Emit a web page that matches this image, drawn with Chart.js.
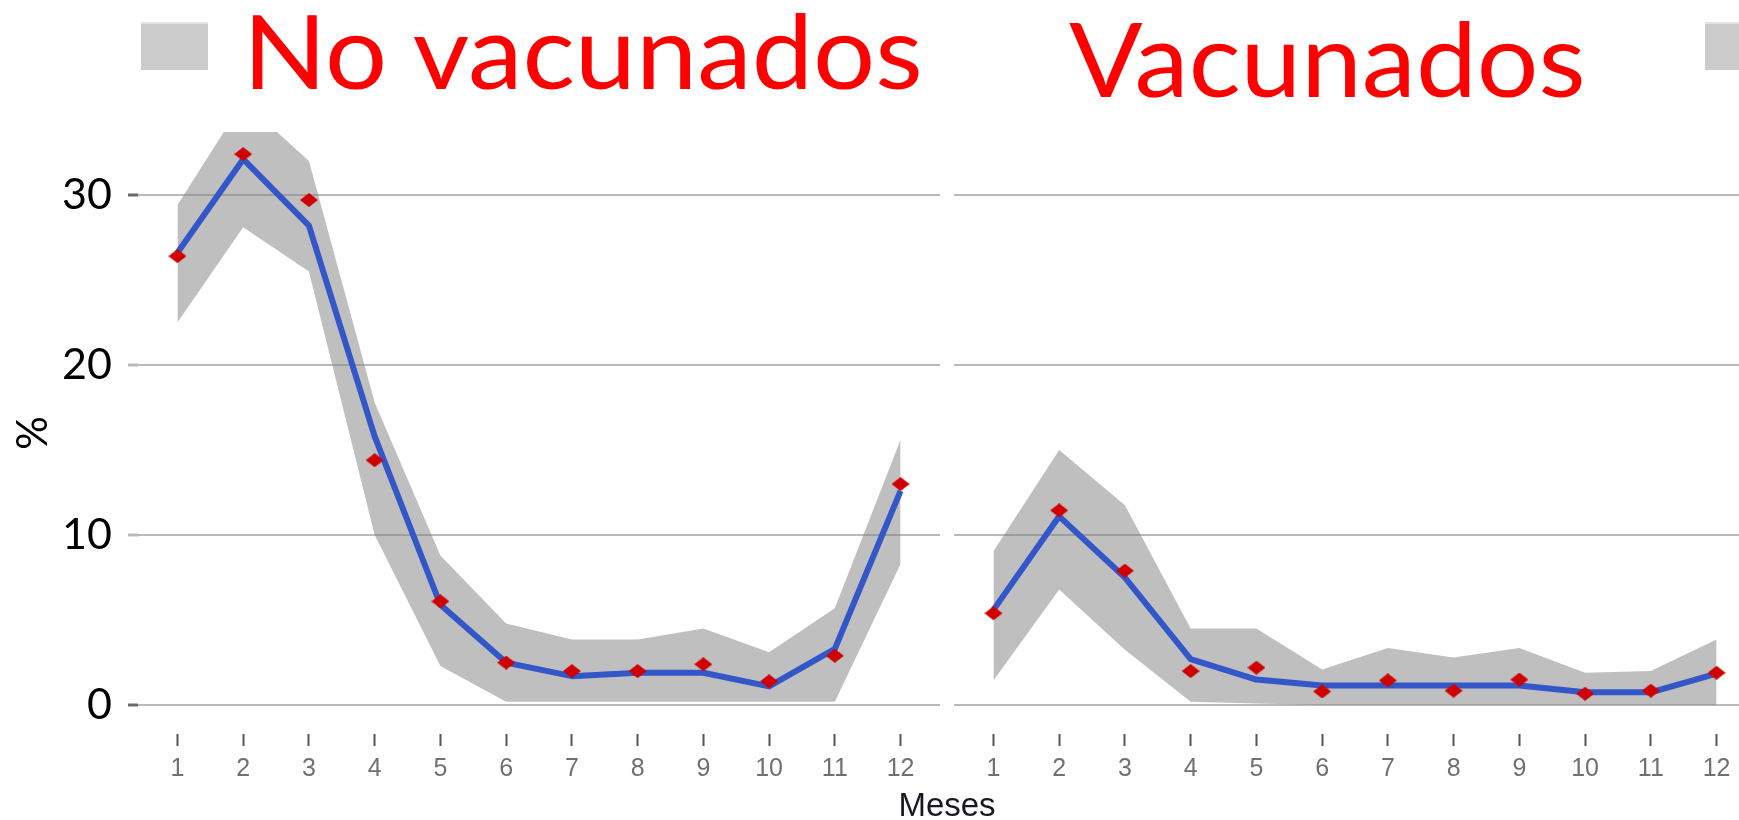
<!DOCTYPE html>
<html>
<head>
<meta charset="utf-8">
<script src="https://cdn.jsdelivr.net/npm/chart.js@4/dist/chart.umd.min.js"></script>
<style>
  html, body { margin: 0; padding: 0; background: #fff; }
  body { width: 1739px; height: 820px; overflow: hidden; position: relative; }
  .wrap { position: absolute; top: 0; }
  .ptitle { position: absolute; font-family: Lato, "Open Sans", sans-serif; color: #ff0000; font-size: 102px; line-height: 102px; white-space: nowrap; transform-origin: 0 0; }
  .key { position: absolute; background: #cbcbcb; border-top: 2px solid #e2e2e2; }
  #xtitle { position: absolute; font-family: "Liberation Sans", Arial, sans-serif; font-size: 33px; line-height: 33px; color: #1a1626; white-space: nowrap; }
</style>
</head>
<body>
<div class="key" style="left:141px; top:22px; width:67px; height:46px;"></div>
<div class="key" style="left:1705px; top:22px; width:40px; height:46px;"></div>
<div class="ptitle" id="t1" style="left:243px; top:-1px; transform:scaleX(1.075);"></div>
<div class="ptitle" id="t2" style="left:1069px; top:7px; transform:scaleX(1.066);"></div>
<div class="wrap" style="left:0px;"><canvas id="c1" width="950" height="820" style="width:950px;height:820px"></canvas></div>
<div class="wrap" style="left:944px;"><canvas id="c2" width="830" height="820" style="width:830px;height:820px"></canvas></div>
<div id="xtitle"></div>
<script>
// ---- data ----
const months = [1, 2, 3, 4, 5, 6, 7, 8, 9, 10, 11, 12];
const yTicks = [0, 10, 20, 30];
const panelTitles = ['No vacunados', 'Vacunados'];
const xTitle = 'Meses';
const yTitle = '%';

// No vacunados
const noVacObs   = [26.4, 32.4, 29.7, 14.4, 6.1, 2.5, 2.0, 2.0, 2.4, 1.4, 2.9, 13.0];
const noVacFit   = [26.6, 32.1, 28.2, 15.8, 5.9, 2.5, 1.7, 1.9, 1.9, 1.1, 3.3, 12.6];
const noVacUpper = [29.4, 35.5, 32.0, 17.8, 8.8, 4.8, 3.85, 3.85, 4.5, 3.1, 5.7, 15.6];
const noVacLower = [22.5, 28.1, 25.5, 10.0, 2.3, 0.2, 0.2, 0.2, 0.2, 0.2, 0.2, 8.3];

// Vacunados
const vacObs   = [5.4, 11.45, 7.9, 2.0, 2.2, 0.8, 1.45, 0.85, 1.5, 0.67, 0.85, 1.9];
const vacFit   = [5.6, 11.1, 7.5, 2.7, 1.5, 1.15, 1.15, 1.15, 1.15, 0.75, 0.75, 1.85];
const vacUpper = [9.05, 15.0, 11.75, 4.5, 4.5, 2.1, 3.35, 2.8, 3.35, 1.9, 2.0, 3.85];
const vacLower = [1.45, 6.8, 3.25, 0.2, 0.1, 0, 0, 0, 0, 0, 0, 0];

// ---- text ----
document.getElementById('t1').textContent = panelTitles[0];
document.getElementById('t2').textContent = panelTitles[1];
const xt = document.getElementById('xtitle');
xt.textContent = xTitle;

// stretched diamond marker (as in the reference)
function diamond(w, h, color) {
  const c = document.createElement('canvas');
  c.width = w; c.height = h;
  const g = c.getContext('2d');
  g.fillStyle = color;
  g.beginPath();
  g.moveTo(w / 2, 0); g.lineTo(w, h / 2); g.lineTo(w / 2, h); g.lineTo(0, h / 2);
  g.closePath(); g.fill();
  return c;
}
const marker = diamond(18, 14, '#d00000');

function pts(arr) { return months.map((m, i) => ({ x: m, y: arr[i] })); }

function makeChart(id, obs, fit, up, lo, isLeft) {
  const ctx = document.getElementById(id);
  return new Chart(ctx, {
    type: 'line',
    data: {
      datasets: [
        { data: pts(up), borderColor: 'rgba(0,0,0,0)', borderWidth: 0, pointRadius: 0,
          backgroundColor: 'rgba(128,128,128,0.5)', fill: '+1', tension: 0, order: 2 },
        { data: pts(lo), borderColor: 'rgba(0,0,0,0)', borderWidth: 0, pointRadius: 0,
          fill: false, tension: 0, order: 3 },
        { data: pts(fit), borderColor: '#3356c8', borderWidth: 6, pointRadius: 0,
          fill: false, tension: 0, order: 1, borderJoinStyle: 'round', borderCapStyle: 'butt' },
        { data: pts(obs), showLine: false, pointStyle: marker, pointRadius: 9, order: 0 }
      ]
    },
    options: {
      responsive: false,
      animation: false,
      events: [],
      layout: { padding: isLeft ? { left: 0, top: 132, right: 10, bottom: 0 }
                                : { left: 10, top: 132, right: 18, bottom: 0 } },
      plugins: { legend: { display: false }, tooltip: { enabled: false }, title: { display: false } },
      scales: {
        x: {
          type: 'linear', min: 0.4, max: 12.6,
          afterBuildTicks: s => { s.ticks = months.map(v => ({ value: v })); },
          afterFit: s => { s.height = 86; },
          border: { display: false },
          grid: { drawOnChartArea: false, drawTicks: true, tickLength: 12, tickColor: '#555555', tickWidth: 2 },
          ticks: { padding: 8, color: '#707070', font: { family: '"Liberation Sans", Arial, sans-serif', size: 25 },
                   maxRotation: 0, autoSkip: false }
        },
        y: {
          type: 'linear', min: -1.7, max: 33.7,
          afterBuildTicks: s => { s.ticks = yTicks.map(v => ({ value: v })); },
          afterFit: s => { s.width = isLeft ? 138 : 0; },
          border: { display: false },
          grid: { color: '#bababa', lineWidth: 2, drawTicks: isLeft, tickLength: 10,
                  tickColor: c => (c.tick && (c.tick.value === 0 || c.tick.value === 30)) ? '#6a6a6a' : '#bababa',
                  tickWidth: 3 },
          ticks: { display: isLeft, padding: 16, color: '#000',
                   font: { family: 'Lato, "Open Sans", sans-serif', size: 43 } },
          title: { display: isLeft, text: yTitle, color: '#000', padding: { top: 8, bottom: 0 },
                   font: { family: 'Lato, "Open Sans", sans-serif', size: 42 } }
        }
      }
    }
  });
}

makeChart('c1', noVacObs, noVacFit, noVacUpper, noVacLower, true);
makeChart('c2', vacObs, vacFit, vacUpper, vacLower, false);

// center x-axis title under both panels (left area start 138, right area end 1756)
const w = xt.getBoundingClientRect().width;
xt.style.left = ((138 + 1756) / 2 - w / 2) + 'px';
xt.style.top = '788px';
</script>
</body>
</html>
